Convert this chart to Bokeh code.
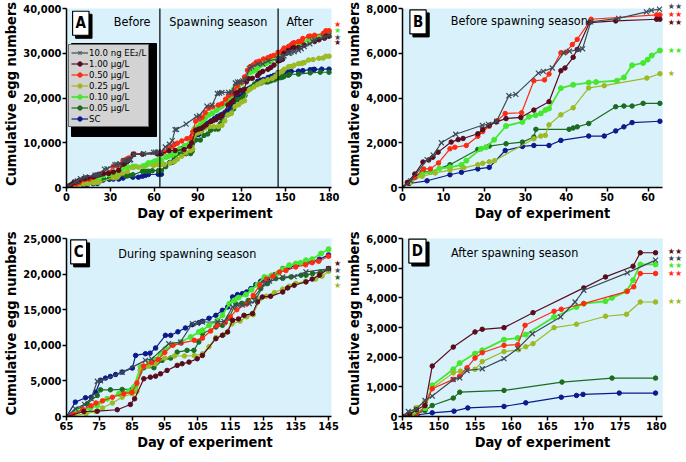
from bokeh.plotting import figure
from bokeh.layouts import column, row
from bokeh.models import (Range1d, FixedTicker, NumeralTickFormatter, Legend, LegendItem,
                          Label, BoxAnnotation)
from bokeh.core.properties import value
from bokeh.embed import file_html
from bokeh.resources import INLINE

FONT = "'DejaVu Sans Condensed', 'Liberation Sans', sans-serif"
BG = "#d8f1fb"

# ---------------- series definitions ----------------
series_keys = ["ee2", "c100", "c050", "c025", "c010", "c005", "sc"]
series_labels = ["10.0 ng EE\u2082/L", "1.00 \u00b5g/L", "0.50 \u00b5g/L", "0.25 \u00b5g/L",
                 "0.10 \u00b5g/L", "0.05 \u00b5g/L", "SC"]
series_colors = ["#3d4a55", "#5a0c1c", "#ff2a12", "#9cba22", "#45e82e", "#1b6c1e", "#0c1a8c"]

# ---------------- Panel B: before spawning season (days 0-63) ----------------
B_ee2_day = [0, 2, 6, 7.5, 9.5, 13, 19.5, 21, 23, 26, 27.7, 33.2, 34.4, 36.6, 39.4, 40.8, 43, 44, 46, 52.8, 59.6, 60.8, 62.8]
B_ee2_val = [0, 300, 1250, 1450, 2000, 2380, 2780, 2820, 2960, 4100, 4160, 5110, 5190, 5340, 6020, 6090, 6150, 6200, 7400, 7560, 7850, 7920, 7970]
B_c100_day = [0, 1.2, 3, 5, 6.4, 7.4, 8.7, 11.9, 13.6, 14.8, 18.4, 19.6, 21.2, 22.9, 25.3, 28.9, 32.1, 35.8, 38.7, 39.7, 41.7, 42.7, 45.7, 52.1, 62.1, 62.9]
B_c100_val = [0, 230, 600, 1140, 1230, 1350, 1580, 2030, 2140, 2190, 2400, 2590, 2780, 2930, 3080, 3130, 3460, 3835, 5220, 5340, 5820, 6170, 7370, 7445, 7520, 7520]
B_c050_day = [0, 1.2, 3, 5.2, 6.8, 8.8, 11.6, 12.8, 15.6, 18.4, 19.6, 21.2, 23.1, 25.1, 29.1, 32.1, 34.7, 35.8, 38.7, 39.9, 41.5, 42.7, 46.1, 62.1, 62.9]
B_c050_val = [0, 200, 450, 830, 830, 1100, 1730, 1800, 1880, 2290, 2500, 2740, 2980, 3310, 3340, 4770, 4810, 5070, 6020, 6050, 6390, 6620, 7520, 7715, 7715]
B_c025_day = [0, 2, 4.8, 8, 11.6, 15, 18.4, 19.6, 21.2, 22.5, 32.1, 33.8, 34.9, 35.8, 38.7, 41.7, 45.5, 49.3, 59.7, 62.9]
B_c025_val = [0, 250, 500, 650, 780, 880, 1020, 1080, 1150, 1200, 2180, 2300, 2330, 2800, 3250, 3560, 4450, 4550, 4890, 5085]
B_c010_day = [0, 2, 4.8, 7, 9, 11.6, 14.4, 15.6, 19.2, 20.4, 22.4, 25.3, 29.3, 30.9, 32.5, 33.8, 34.9, 35.8, 38.7, 41.7, 45.5, 47.3, 52.4, 54.1, 56.1, 58.8, 59.9, 60.9, 62.9]
B_c010_val = [0, 250, 600, 700, 850, 900, 1010, 1200, 1730, 1800, 2135, 2750, 2930, 3160, 3230, 3310, 3460, 3530, 4440, 4590, 4690, 4710, 4770, 4920, 5460, 5565, 5715, 5900, 6120]
B_c005_day = [0, 2, 4.8, 6.8, 11.6, 18.4, 21.2, 25.3, 29.3, 32.1, 32.6, 40.7, 41.7, 42.7, 45.5, 52.1, 54.1, 56.1, 58.8, 62.9]
B_c005_val = [0, 280, 700, 700, 1020, 1700, 1850, 1955, 2030, 2255, 2600, 2600, 2660, 2710, 2860, 3610, 3640, 3640, 3760, 3760]
B_sc_day = [0, 1.6, 6, 11.6, 14.4, 18.4, 21.2, 25.1, 29.3, 32.1, 35.8, 38.7, 45.5, 49.3, 52.1, 54.1, 56.1, 62.9]
B_sc_val = [0, 180, 300, 570, 680, 830, 900, 1655, 1835, 1880, 1880, 2105, 2300, 2300, 2530, 2710, 2900, 2960]

# ---------------- Panel C: during spawning season (days 65-145) ----------------
C_ee2_day = [65, 67.7, 70.5, 72.5, 74.4, 75.4, 82, 89.1, 91, 96.2, 99.8, 103.4, 104.9, 106.5, 111.1, 113.1, 115.7, 117.2, 118.7, 120.8, 122.5, 125.4, 127, 131, 134.5, 138.1, 145]
C_ee2_val = [0, 1080, 1700, 2500, 4950, 5000, 6200, 7880, 8100, 10220, 10460, 13040, 13100, 13270, 13300, 13350, 15380, 15620, 15650, 15850, 16200, 18670, 19000, 19600, 19650, 20310, 20750]
C_c100_day = [65, 70.3, 74.4, 80.5, 84.5, 85.8, 88.6, 90.6, 92.2, 93.7, 95.7, 98.8, 100.3, 102.4, 104.9, 106.5, 110.6, 112.6, 114.2, 115.7, 117.5, 119.2, 121.8, 123.3, 124.8, 127.3, 131, 132.5, 134.5, 138.1, 140, 142.2, 145]
C_c100_val = [0, 700, 750, 950, 1690, 2490, 5300, 5530, 5670, 6000, 6470, 7180, 7410, 7640, 8110, 8580, 10930, 11400, 11870, 13510, 13700, 14210, 14450, 16090, 16790, 16880, 17490, 18060, 18430, 18900, 19300, 19840, 20780]
C_c050_day = [65, 67, 70, 72.5, 74, 76, 79, 82.5, 85, 86.5, 88.5, 91, 93, 95, 97.5, 100, 104, 106.5, 109, 111, 113.5, 115, 117, 120, 122, 124, 126, 128, 130, 132, 135, 138, 140, 142, 145]
C_c050_val = [0, 300, 1000, 1500, 1900, 2200, 2700, 3200, 3400, 4700, 7100, 7600, 8000, 9000, 10000, 10300, 10700, 11000, 12000, 12800, 13200, 14000, 15000, 15800, 17000, 18500, 19300, 19700, 20300, 20500, 21000, 21300, 21600, 21800, 22500]
C_c025_day = [65, 67, 71, 74, 76, 79, 82, 85, 86.5, 87.5, 90, 92, 95, 98, 101, 104, 106.5, 108.5, 110.6, 113, 115.5, 118, 120, 122, 124, 126, 128.5, 131, 133, 135, 138, 141, 143, 145]
C_c025_val = [0, 100, 400, 700, 1200, 1900, 2700, 3200, 3500, 6500, 7100, 7400, 8200, 8500, 8500, 8550, 8800, 9800, 11100, 11500, 13000, 13400, 14000, 14300, 16500, 16900, 17400, 17900, 18300, 18700, 19000, 19300, 19700, 20400]
C_c010_day = [65, 68.3, 70, 72.3, 74.4, 77.4, 81, 84, 85.6, 87.6, 90.1, 92, 93.7, 95.2, 97.5, 100, 102.9, 105.4, 106.5, 108.5, 111.1, 112.6, 114.7, 116.2, 117.5, 119.8, 121.5, 123.3, 125.4, 127.5, 129.4, 131, 133, 135, 136.5, 138.1, 140, 142.7, 145]
C_c010_val = [0, 700, 900, 1170, 1550, 2485, 3190, 3520, 4130, 6940, 7410, 8000, 8820, 9520, 10100, 10500, 11160, 11870, 12100, 12800, 13500, 14210, 15850, 16320, 16700, 17120, 17800, 18530, 19600, 19800, 20070, 20700, 21250, 21480, 21600, 21950, 22100, 22890, 23500]
C_c005_day = [65, 68, 71.3, 74.4, 75.4, 78.4, 82, 85, 86.1, 88.6, 91.7, 94.2, 96.8, 98.8, 101.8, 103.9, 105.4, 106.5, 110.6, 112.6, 114.5, 116.7, 118.5, 120.5, 122.3, 124.3, 126.4, 128.9, 131, 133.5, 136.6, 138.1, 140.1, 142.5, 145]
C_c005_val = [0, 900, 1780, 2950, 3750, 3750, 3800, 3800, 4360, 6850, 6850, 7880, 8200, 9050, 9290, 9290, 10460, 11630, 12570, 12800, 13800, 15850, 15900, 16300, 16790, 17960, 18670, 19370, 19400, 19600, 19840, 19840, 20070, 20300, 20700]
C_sc_day = [65, 67.7, 70.8, 72.5, 73.9, 75.4, 76.9, 78.4, 80, 82, 85.1, 86.1, 89.1, 90.5, 92.2, 95.2, 96.8, 99, 101.3, 103.4, 105.4, 106.5, 108.5, 110.6, 112.6, 114.2, 115.7, 117.2, 118.7, 120, 121.3, 122.8, 124.3, 125.3, 126.4, 128.5, 131, 133, 135, 138.1, 140.1, 142.2, 145]
C_sc_val = [0, 2020, 2630, 2700, 3420, 5100, 5390, 5630, 5900, 6240, 6800, 8580, 8820, 8900, 9620, 11400, 11400, 11900, 12430, 12900, 13180, 13370, 13800, 14210, 14915, 15380, 16790, 17120, 17260, 17500, 17960, 18530, 19000, 19200, 19370, 19900, 20780, 21010, 21150, 21620, 21810, 22090, 22700]

# ---------------- Panel D: after spawning season (days 145-180) ----------------
D_ee2_day = [145, 145.8, 146.9, 148.1, 149.1, 152, 152.9, 153.9, 156, 159, 160.9, 162.9, 166.8, 168.8, 170, 176, 179.9]
D_ee2_val = [0, 170, 250, 540, 690, 1240, 1300, 1550, 1610, 1950, 2290, 2790, 3355, 3860, 4255, 4840, 5270]
D_c100_day = [145, 146, 146.9, 148.1, 149.1, 152, 155, 156, 159, 163, 170, 173, 176.8, 177.8, 179.9]
D_c100_val = [0, 80, 225, 370, 1700, 2340, 2850, 2940, 2995, 3500, 4335, 4705, 5065, 5520, 5520]
D_c050_day = [145, 146.9, 148.1, 149.1, 152, 152.9, 153.9, 155, 156, 159, 160.9, 161.9, 165.9, 166.9, 170, 176, 176.9, 177.8, 179.9]
D_c050_val = [0, 0, 370, 935, 1250, 1360, 1645, 1970, 2150, 2400, 2420, 3075, 3545, 3615, 3805, 4220, 4370, 4820, 4820]
D_c025_day = [145, 146.9, 148.1, 149.1, 152, 153, 155, 156, 159, 161, 162, 163, 165.9, 169, 173, 175.9, 177.8, 179.9]
D_c025_val = [0, 300, 500, 950, 1470, 1530, 1590, 1850, 2190, 2250, 2350, 2455, 2995, 3110, 3380, 3445, 3860, 3860]
D_c010_day = [145, 146.5, 148.1, 149.1, 152, 152.9, 155, 156, 159, 160.9, 162, 165.9, 169, 170, 173, 173.9, 175.9, 176.8, 177.8, 179.9]
D_c010_val = [0, 100, 280, 1050, 1590, 1800, 2120, 2230, 2590, 2645, 2760, 3355, 3690, 3805, 3885, 4000, 4220, 4595, 5125, 5125]
D_c005_day = [145, 146.9, 148.1, 149.1, 152, 152.9, 159, 167, 173.9, 179.9]
D_c005_val = [0, 90, 200, 370, 620, 820, 880, 1160, 1295, 1295]
D_sc_day = [145, 147, 149.1, 152.1, 154, 159, 162, 166.9, 169, 169.9, 174.9, 179.9]
D_sc_val = [0, 50, 125, 180, 290, 340, 460, 650, 710, 745, 790, 790]

# ---------------- significance stars (series, y position, text) ----------------
A_star_series = ["c050", "c010", "ee2", "c100"]
A_star_y = [36400, 35000, 33600, 32300]
A_star_text = ["\u2605", "\u2605", "\u2605", "\u2605"]
B_star_series = ["ee2", "c050", "c100", "c010", "c025"]
B_star_y = [8100, 7710, 7385, 6130, 5110]
B_star_text = ["\u2605\u2605", "\u2605\u2605", "\u2605\u2605", "\u2605\u2605", "\u2605"]
C_star_series = ["c100", "ee2", "c005", "c025"]
C_star_y = [21480, 20440, 19460, 18390]
C_star_text = ["\u2605", "\u2605", "\u2605", "\u2605"]
D_star_series = ["c100", "ee2", "c010", "c050", "c025"]
D_star_y = [5570, 5320, 5100, 4820, 3890]
D_star_text = ["\u2605\u2605"] * 5

# ---------------- tick positions ----------------
A_xticks = [0, 30, 60, 90, 120, 150, 180]
A_yticks = [0, 10000, 20000, 30000, 40000]
B_xticks = [0, 10, 20, 30, 40, 50, 60]
B_yticks = [0, 2000, 4000, 6000, 8000]
C_xticks = [65, 75, 85, 95, 105, 115, 125, 135, 145]
C_yticks = [0, 5000, 10000, 15000, 20000, 25000]
D_xticks = [145, 150, 155, 160, 165, 170, 175, 180]
D_yticks = [0, 1000, 2000, 3000, 4000, 5000, 6000]

season_bounds = [64, 145]

data = {}
for k in series_keys:
    data[("B", k)] = (globals()["B_%s_day" % k], globals()["B_%s_val" % k])
    data[("C", k)] = (globals()["C_%s_day" % k], globals()["C_%s_val" % k])
    data[("D", k)] = (globals()["D_%s_day" % k], globals()["D_%s_val" % k])
    # Panel A: whole experiment = the three periods joined cumulatively
    bd, bv = data[("B", k)]
    cd, cv = data[("C", k)]
    dd, dv = data[("D", k)]
    data[("A", k)] = (list(bd) + list(cd) + list(dd[1:]),
                      list(bv) + [v + bv[-1] for v in cv] + [v + bv[-1] + cv[-1] for v in dv[1:]])

color_of = dict(zip(series_keys, series_colors))
TOP_PAD = 8  # px between frame top and top tick


def make_panel(name, x0, x1, xpad, ytop, xticks, yticks, w, h, bl, bb):
    bt, br = 0, 0
    fw, fh = w - bl - br, h - bt - bb
    x_end = x0 + (x1 - x0) * fw / (fw - xpad)
    y_end = ytop * fh / (fh - TOP_PAD)
    p = figure(width=w, height=h, x_range=Range1d(x0, x_end), y_range=Range1d(0, y_end),
               output_backend="svg", toolbar_location=None,
               min_border_left=bl, min_border_right=br, min_border_top=bt, min_border_bottom=bb,
               x_axis_label="Day of experiment", y_axis_label="Cumulative egg numbers")
    p.background_fill_color = "white"
    p.border_fill_color = "white"
    p.outline_line_color = None
    p.grid.visible = False
    p.add_layout(BoxAnnotation(left=x0, right=x1, bottom=0, top=ytop, fill_color=BG, fill_alpha=1,
                               line_alpha=0, level="underlay"))
    p.xaxis.bounds = (x0, x1)
    p.yaxis.bounds = (0, ytop)
    p.xaxis.ticker = FixedTicker(ticks=xticks)
    p.yaxis.ticker = FixedTicker(ticks=yticks)
    p.yaxis.formatter = NumeralTickFormatter(format="0,0")
    for ax in (p.xaxis[0], p.yaxis[0]):
        ax.axis_line_width = 1.5
        ax.axis_line_color = "black"
        ax.major_tick_line_width = 1.5
        ax.major_tick_out = 4
        ax.major_tick_in = 0
        ax.minor_tick_out = 0
        ax.minor_tick_in = 0
        ax.major_label_standoff = 1
        ax.axis_label_standoff = 1
        ax.major_label_text_font = FONT
        ax.major_label_text_font_style = "bold"
        ax.major_label_text_font_size = "11px"
        ax.major_label_text_color = "black"
        ax.axis_label_text_font = FONT
        ax.axis_label_text_font_style = "bold"
        ax.axis_label_text_font_size = "14.5px"
        ax.axis_label_text_color = "black"
    renderers = {}
    for k in reversed(series_keys):
        d, v = data[(name, k)]
        c = color_of[k]
        lw = 1.8 if k == "c010" else 1.2
        lr = p.line(d, v, line_color=c, line_width=lw)
        if k == "ee2":
            sr = p.scatter(d, v, marker="x", size=7, line_color=c, line_width=1.2)
        else:
            sr = p.scatter(d, v, marker="circle", size=5 if k == "c010" else 4.5,
                           fill_color=c, line_color=c)
        renderers[k] = [lr, sr]
    return p, renderers, fw - xpad


def letter_box(p, x, y, letter):
    common = dict(x=x, y=y, text=letter, text_font=FONT, text_font_style="bold",
                  text_font_size="15px", text_align="center", text_baseline="middle", padding=3)
    p.add_layout(Label(x_offset=3, y_offset=-3, text_color="black", background_fill_color="black",
                       border_line_color="black", **common))
    p.add_layout(Label(text_color="black", background_fill_color="white",
                       border_line_color="black", border_line_width=1.2, **common))


def title_text(p, x, y, txt, align):
    p.add_layout(Label(x=x, y=y, text=txt, text_font=FONT, text_font_size="12.5px",
                       text_align=align, text_baseline="middle", text_color="black"))


def stars(p, data_w, x0, x1, off_px, keys, ys, texts):
    x = x1 + off_px * (x1 - x0) / data_w
    p.text(x=[x] * len(keys), y=ys, text=texts, text_color=[color_of[k] for k in keys],
           text_font=value("DejaVu Sans"), text_font_size="8px", text_align="left",
           text_baseline="middle")


# ---- Panel A ----
pA, rA, wA = make_panel("A", 0, 181.6, 12, 40000, A_xticks, A_yticks, 343, 230, 66, 43)
for b in season_bounds:
    pA.add_layout(BoxAnnotation(left=b, right=b, bottom=0, top=40000, fill_alpha=0,
                                line_color="black", line_alpha=1, line_width=1.2))
title_text(pA, 45, 37200, "Before", "center")
title_text(pA, 104, 37200, "Spawning season", "center")
title_text(pA, 160, 37200, "After", "center")
letter_box(pA, 9.8, 36700, "A")
stars(pA, wA, 0, 181.6, 2.5, A_star_series, A_star_y, A_star_text)

# legend drop shadow (screen px from the frame's bottom-left corner)
pA.add_layout(BoxAnnotation(left=5, right=90, bottom=51, top=144,
                            left_units="screen", right_units="screen", top_units="screen",
                            bottom_units="screen", fill_color="black", fill_alpha=1,
                            line_color="black", line_alpha=1))
pA.add_layout(Legend(items=[LegendItem(label=lab, renderers=rA[k]) for k, lab in zip(series_keys, series_labels)],
                     location=(2, 60), margin=0, padding=2, spacing=0, label_standoff=1,
                     glyph_width=17, glyph_height=11, label_height=11,
                     label_text_font=FONT, label_text_font_size="9.5px", label_text_color="black",
                     background_fill_color="#d3d3d3", background_fill_alpha=1,
                     border_line_color="black", border_line_width=1.2))

# ---- Panel B ----
pB, _, wB = make_panel("B", 0, 63.6, 20, 8000, B_xticks, B_yticks, 339, 230, 55, 43)
letter_box(pB, 3.8, 7400, "B")
title_text(pB, 11.8, 7475, "Before spawning season", "left")
stars(pB, wB, 0, 63.6, 5, B_star_series, B_star_y, B_star_text)

# ---- Panel C ----
pC, _, wC = make_panel("C", 65, 145.9, 12, 25000, C_xticks, C_yticks, 343, 231, 66, 45)
letter_box(pC, 68.7, 23120, "C")
title_text(pC, 80.8, 22890, "During spawning season", "left")
stars(pC, wC, 65, 145.9, 2.5, C_star_series, C_star_y, C_star_text)

# ---- Panel D ----
pD, _, wD = make_panel("D", 145, 180.9, 20, 6000, D_xticks, D_yticks, 339, 231, 55, 45)
letter_box(pD, 147.06, 5577, "D")
title_text(pD, 151.7, 5513, "After spawning season", "left")
stars(pD, wD, 145, 180.9, 5, D_star_series, D_star_y, D_star_text)

layout = column(row(pA, pB), row(pC, pD))
open("out.html", "w").write(file_html(layout, INLINE))
